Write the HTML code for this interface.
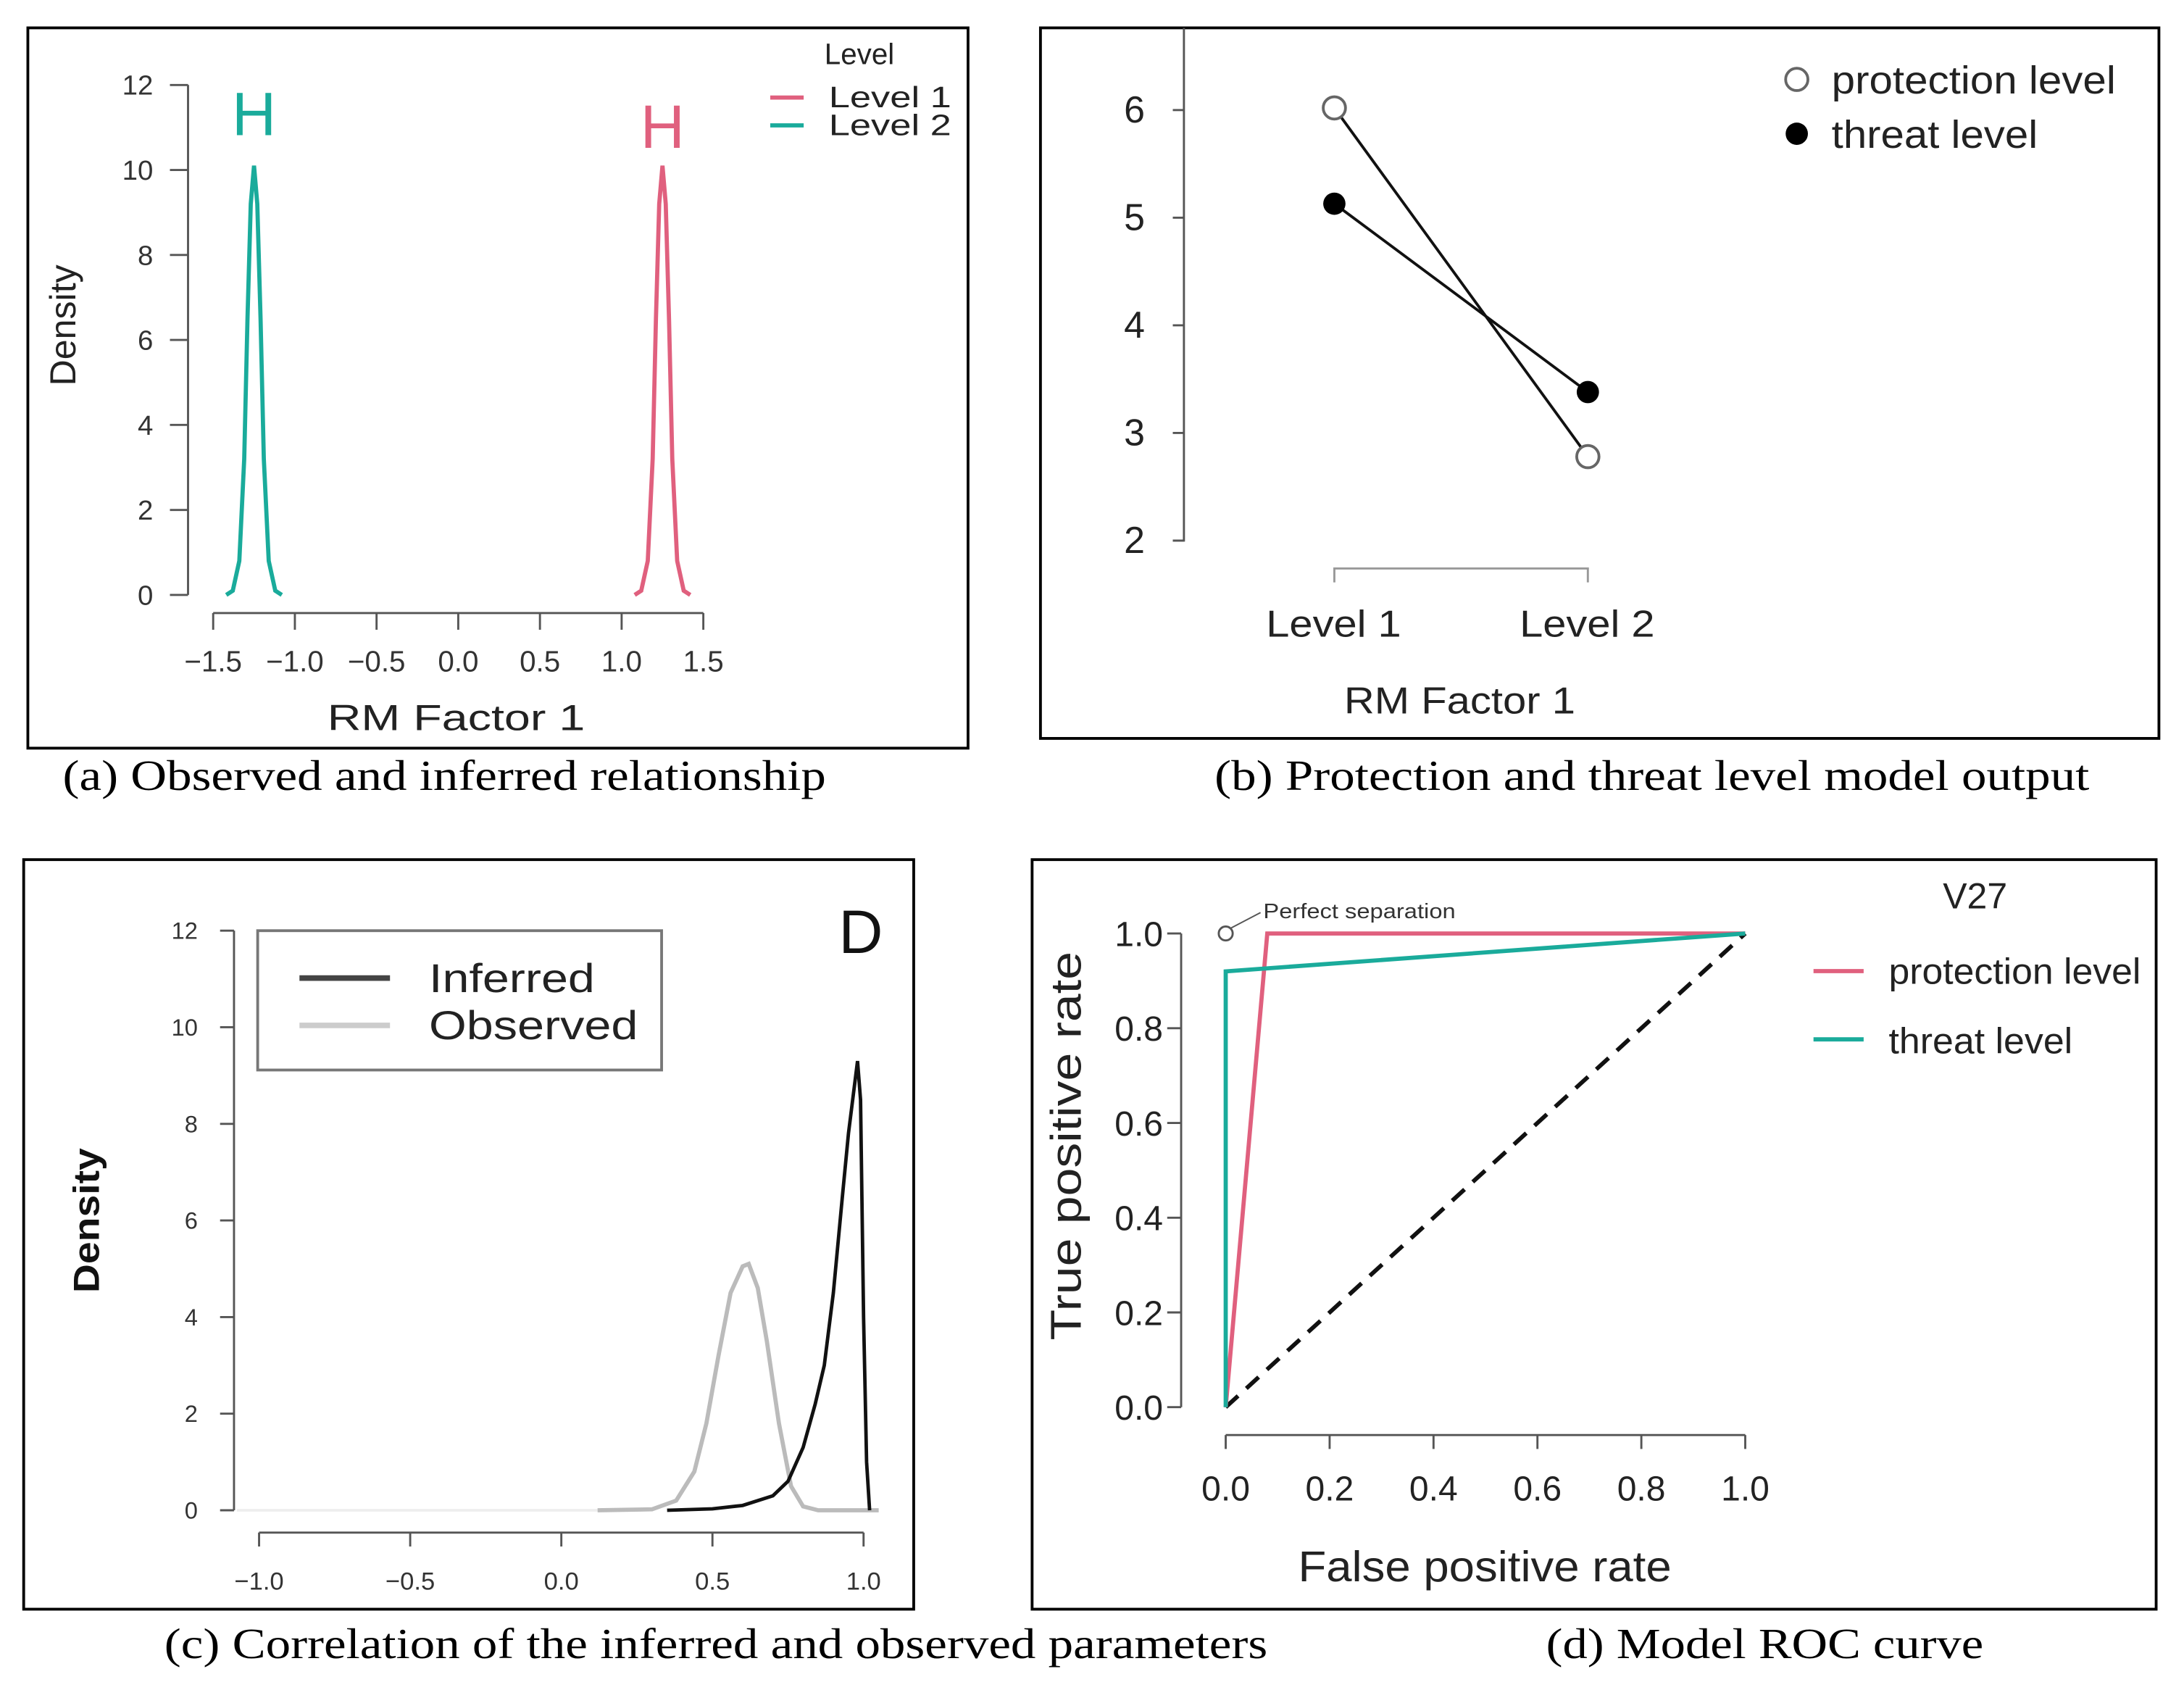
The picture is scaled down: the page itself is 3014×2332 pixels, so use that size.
<!DOCTYPE html>
<html><head><meta charset="utf-8"><style>
html,body{margin:0;padding:0;background:#fff}
svg{display:block}
text{font-family:"Liberation Sans",sans-serif}
.cap{font-family:"Liberation Serif",serif;font-size:31px;fill:#000}
</style></head><body>
<svg id="s" width="3014" height="2332" viewBox="0 0 1568 1213" preserveAspectRatio="none" xmlns="http://www.w3.org/2000/svg">
<g>
<rect x="20" y="20" width="675" height="517" fill="none" stroke="#000" stroke-width="2"/>
<g id="ga"></g>
</g>
<g>
<rect x="747" y="20" width="803" height="510" fill="none" stroke="#000" stroke-width="2"/>
<g id="gb"></g>
</g>
<g>
<rect x="17" y="617" width="639" height="538" fill="none" stroke="#000" stroke-width="2"/>
<g id="gc"></g>
</g>
<g>
<rect x="741" y="617" width="807" height="538" fill="none" stroke="#000" stroke-width="2"/>
<g id="gd"></g>
</g>
<text class="cap" x="45" y="567" textLength="548" lengthAdjust="spacingAndGlyphs">(a) Observed and inferred relationship</text>
<text class="cap" x="872" y="567" textLength="628" lengthAdjust="spacingAndGlyphs">(b) Protection and threat level model output</text>
<text class="cap" x="118" y="1190" textLength="792" lengthAdjust="spacingAndGlyphs">(c) Correlation of the inferred and observed parameters</text>
<text class="cap" x="1110" y="1190" textLength="314" lengthAdjust="spacingAndGlyphs">(d) Model ROC curve</text>
</svg>
<script>
// Panel a data
const aTicksY=[0,2,4,6,8,10,12];
const aTicksX=[-1.5,-1.0,-0.5,0.0,0.5,1.0,1.5];
const aLevel2X=[-1.42,-1.38,-1.34,-1.31,-1.29,-1.27,-1.25,-1.23,-1.21,-1.19,-1.16,-1.12,-1.08];
const aLevel2Y=[0,0.1,0.8,3.2,6.5,9.2,10.1,9.2,6.5,3.2,0.8,0.1,0];
const aLevel1X=[1.08,1.12,1.16,1.19,1.21,1.23,1.25,1.27,1.29,1.31,1.34,1.38,1.42];
const aLevel1Y=[0,0.1,0.8,3.2,6.5,9.2,10.1,9.2,6.5,3.2,0.8,0.1,0];
// Panel b data
const bCats=["Level 1","Level 2"];
const bProtection=[6.02,2.78];
const bThreat=[5.13,3.38];
const bTicksY=[2,3,4,5,6];
// Panel c data
const cTicksY=[0,2,4,6,8,10,12];
const cTicksX=[-1.0,-0.5,0.0,0.5,1.0];
const cInfX=[0.35,0.5,0.6,0.7,0.75,0.8,0.84,0.87,0.9,0.93,0.95,0.97,0.98,0.99,1.0,1.01,1.02];
const cInfY=[0,0.03,0.1,0.3,0.6,1.3,2.2,3.0,4.5,6.5,7.8,8.8,9.3,8.5,4,1,0];
const cObsX=[0.12,0.3,0.38,0.44,0.48,0.52,0.56,0.6,0.62,0.65,0.68,0.72,0.76,0.8,0.85,1.05];
const cObsY=[0,0.02,0.2,0.8,1.8,3.2,4.5,5.05,5.1,4.6,3.5,1.8,0.5,0.08,0,0];
// Panel d data
const dTicks=[0,0.2,0.4,0.6,0.8,1.0];
const dProtFPR=[0,0.08,1];
const dProtTPR=[0,1,1];
const dThrFPR=[0,0,1];
const dThrTPR=[0,0.92,1];

const NS="http://www.w3.org/2000/svg";
function mk(p,tag,at,txt){const e=document.createElementNS(NS,tag);for(const k in at)e.setAttribute(k,at[k]);if(txt!==undefined)e.textContent=txt;p.appendChild(e);return e;}
function pts(xs,ys,fx,fy){return xs.map((x,i)=>fx(x)+","+fy(ys[i])).join(" ");}
function tl(e,w){e.setAttribute('textLength',w);e.setAttribute('lengthAdjust','spacingAndGlyphs');return e;}

// ---- Panel a
(function(){
const g=document.getElementById('ga');
const fy=v=>427-v*30.5, fx=v=>329+v*117.3;
let e=mk(g,'line',{x1:135,y1:fy(0),x2:135,y2:fy(12),stroke:'#555','stroke-width':1.5});

aTicksY.forEach(t=>{mk(g,'line',{x1:122,y1:fy(t),x2:135,y2:fy(t),stroke:'#555','stroke-width':1.5});
 const l=mk(g,'text',{x:110,y:fy(t)+7,'font-size':20,'text-anchor':'end',fill:'#333'},t);
 });
e=mk(g,'line',{x1:fx(-1.5),y1:440,x2:fx(1.5),y2:440,stroke:'#555','stroke-width':1.5});

aTicksX.forEach(t=>{mk(g,'line',{x1:fx(t),y1:440,x2:fx(t),y2:452,stroke:'#555','stroke-width':1.5});
 const l=mk(g,'text',{x:fx(t),y:482,'font-size':21,'text-anchor':'middle',fill:'#333'},t.toFixed(1).replace('-','\u2212'));
 });
e=tl(mk(g,'text',{x:235,y:524,'font-size':26,fill:'#222'},'RM Factor 1'),185);

e=tl(mk(g,'text',{x:0,y:0,'font-size':26,fill:'#222',transform:'translate(54,277) rotate(-90)'},'Density'),87);

e=mk(g,'polyline',{points:pts(aLevel2X,aLevel2Y,fx,fy),fill:'none',stroke:'#1aab9b','stroke-width':3});

e=mk(g,'polyline',{points:pts(aLevel1X,aLevel1Y,fx,fy),fill:'none',stroke:'#e0607e','stroke-width':3});

e=mk(g,'text',{x:fx(-1.25),y:97,'font-size':44,'text-anchor':'middle',fill:'#1aab9b'},'H');

e=mk(g,'text',{x:fx(1.25),y:106,'font-size':44,'text-anchor':'middle',fill:'#e0607e'},'H');

e=mk(g,'text',{x:617,y:46,'font-size':21,'text-anchor':'middle',fill:'#222'},'Level');

mk(g,'line',{x1:553,y1:70,x2:577,y2:70,stroke:'#e0607e','stroke-width':3});
mk(g,'line',{x1:553,y1:90,x2:577,y2:90,stroke:'#1aab9b','stroke-width':3});
e=tl(mk(g,'text',{x:595,y:77,'font-size':21,fill:'#222'},'Level 1'),88);

e=tl(mk(g,'text',{x:595,y:97,'font-size':21,fill:'#222'},'Level 2'),88);

})();

// ---- Panel b
(function(){
const g=document.getElementById('gb');
const fy=v=>388-(v-2)*77.25, fx=i=>958+i*182;
let e=mk(g,'polyline',{points:'850,20 850,388 842,388',fill:'none',stroke:'#555','stroke-width':1.5});

bTicksY.forEach(t=>{mk(g,'line',{x1:842,y1:fy(t),x2:850,y2:fy(t),stroke:'#555','stroke-width':1.5});
 const l=mk(g,'text',{x:822,y:fy(t)+9,'font-size':27,'text-anchor':'end',fill:'#222'},t);
 });
e=mk(g,'polyline',{points:`${fx(0)},418 ${fx(0)},408 ${fx(1)},408 ${fx(1)},418`,fill:'none',stroke:'#999','stroke-width':1.5});

bCats.forEach((c,i)=>{const l=tl(mk(g,'text',{x:fx(i)-49,y:457,'font-size':27,fill:'#222'},c),97);
 });
e=tl(mk(g,'text',{x:965,y:512,'font-size':27,fill:'#222'},'RM Factor 1'),166);

e=mk(g,'polyline',{points:bProtection.map((v,i)=>fx(i)+','+fy(v)).join(' '),fill:'none',stroke:'#111','stroke-width':2});

e=mk(g,'polyline',{points:bThreat.map((v,i)=>fx(i)+','+fy(v)).join(' '),fill:'none',stroke:'#111','stroke-width':2});

bProtection.forEach((v,i)=>{const c=mk(g,'circle',{cx:fx(i),cy:fy(v),r:8,fill:'#fff',stroke:'#666','stroke-width':2});
 });
bThreat.forEach((v,i)=>{const c=mk(g,'circle',{cx:fx(i),cy:fy(v),r:8,fill:'#000'});
 });
mk(g,'circle',{cx:1290,cy:57,r:8,fill:'#fff',stroke:'#666','stroke-width':2});
mk(g,'circle',{cx:1290,cy:96,r:8,fill:'#000'});
e=tl(mk(g,'text',{x:1315,y:67,'font-size':28,fill:'#222'},'protection level'),204);

e=tl(mk(g,'text',{x:1315,y:106,'font-size':28,fill:'#222'},'threat level'),148);

})();

// ---- Panel c
(function(){
const g=document.getElementById('gc');
const fy=v=>1084-v*34.67, fx=v=>403+v*217;
let e=mk(g,'line',{x1:168,y1:fy(0),x2:168,y2:fy(12),stroke:'#555','stroke-width':1.5});

cTicksY.forEach(t=>{mk(g,'line',{x1:158,y1:fy(t),x2:168,y2:fy(t),stroke:'#555','stroke-width':1.5});
 const l=mk(g,'text',{x:142,y:fy(t)+6,'font-size':17,'text-anchor':'end',fill:'#333'},t);
 });
e=mk(g,'line',{x1:fx(-1),y1:1100,x2:fx(1),y2:1100,stroke:'#555','stroke-width':1.5});

cTicksX.forEach(t=>{mk(g,'line',{x1:fx(t),y1:1100,x2:fx(t),y2:1110,stroke:'#555','stroke-width':1.5});
 const l=mk(g,'text',{x:fx(t),y:1141,'font-size':18,'text-anchor':'middle',fill:'#333'},t.toFixed(1).replace('-','\u2212'));
 });
mk(g,'line',{x1:170,y1:fy(0),x2:fx(0.12),y2:fy(0),stroke:'#eee','stroke-width':2});
e=mk(g,'polyline',{points:pts(cObsX,cObsY,fx,fy),fill:'none',stroke:'#bbb','stroke-width':3});

e=mk(g,'polyline',{points:pts(cInfX,cInfY,fx,fy),fill:'none',stroke:'#111','stroke-width':2.5});

e=tl(mk(g,'text',{x:0,y:0,'font-size':26,'font-weight':'bold',fill:'#111',transform:'translate(71,928) rotate(-90)'},'Density'),104);

e=mk(g,'text',{x:618,y:684,'font-size':44,'text-anchor':'middle',fill:'#111'},'D');

e=mk(g,'rect',{x:185,y:668,width:290,height:100,fill:'#fff',stroke:'#777','stroke-width':2});

mk(g,'line',{x1:215,y1:702,x2:280,y2:702,stroke:'#444','stroke-width':4});
mk(g,'line',{x1:215,y1:736,x2:280,y2:736,stroke:'#ccc','stroke-width':4});
e=tl(mk(g,'text',{x:308,y:712,'font-size':29,fill:'#222'},'Inferred'),119);

e=tl(mk(g,'text',{x:308,y:746,'font-size':29,fill:'#222'},'Observed'),150);

})();

// ---- Panel d
(function(){
const g=document.getElementById('gd');
const fx=v=>880+v*373, fy=v=>1010-v*340;
let e=mk(g,'line',{x1:848,y1:fy(0),x2:848,y2:fy(1),stroke:'#555','stroke-width':1.5});

e=mk(g,'line',{x1:fx(0),y1:1030,x2:fx(1),y2:1030,stroke:'#555','stroke-width':1.5});

dTicks.forEach(t=>{mk(g,'line',{x1:838,y1:fy(t),x2:848,y2:fy(t),stroke:'#555','stroke-width':1.5});
 let l=mk(g,'text',{x:835,y:fy(t)+9,'font-size':25,'text-anchor':'end',fill:'#222'},t.toFixed(1));
 
 mk(g,'line',{x1:fx(t),y1:1030,x2:fx(t),y2:1040,stroke:'#555','stroke-width':1.5});
 l=mk(g,'text',{x:fx(t),y:1077,'font-size':25,'text-anchor':'middle',fill:'#222'},t.toFixed(1));
 });
e=tl(mk(g,'text',{x:932,y:1135,'font-size':31,fill:'#222'},'False positive rate'),268);

e=tl(mk(g,'text',{x:0,y:0,'font-size':31,fill:'#222',transform:'translate(776,962) rotate(-90)'},'True positive rate'),279);

e=mk(g,'line',{x1:fx(0),y1:fy(0),x2:fx(1),y2:fy(1),stroke:'#111','stroke-width':3,'stroke-dasharray':'12,8'});

e=mk(g,'polyline',{points:pts(dProtFPR,dProtTPR,fx,fy),fill:'none',stroke:'#e0607e','stroke-width':3});

e=mk(g,'polyline',{points:pts(dThrFPR,dThrTPR,fx,fy),fill:'none',stroke:'#1aab9b','stroke-width':3});

e=mk(g,'circle',{cx:fx(0),cy:fy(1),r:5,fill:'none',stroke:'#555','stroke-width':1.5});

mk(g,'line',{x1:fx(0)+4,y1:fy(1)-4,x2:905,y2:655,stroke:'#555','stroke-width':1});
e=tl(mk(g,'text',{x:907,y:659,'font-size':15,fill:'#333'},'Perfect separation'),138);

e=mk(g,'text',{x:1418,y:652,'font-size':26,'text-anchor':'middle',fill:'#222'},'V27');

mk(g,'line',{x1:1302,y1:697,x2:1338,y2:697,stroke:'#e0607e','stroke-width':3});
mk(g,'line',{x1:1302,y1:746,x2:1338,y2:746,stroke:'#1aab9b','stroke-width':3});
e=tl(mk(g,'text',{x:1356,y:706,'font-size':26,fill:'#222'},'protection level'),181);

e=tl(mk(g,'text',{x:1356,y:756,'font-size':26,fill:'#222'},'threat level'),132);

})();
</script>
</body></html>
